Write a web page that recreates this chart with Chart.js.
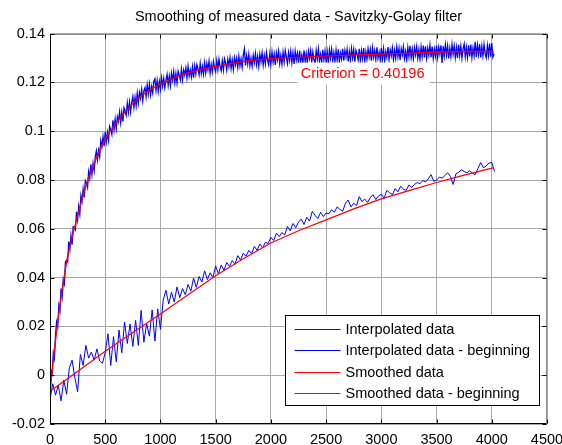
<!DOCTYPE html>
<html>
<head>
<meta charset="utf-8">
<title>Savitzky-Golay smoothing</title>
<script src="https://cdn.jsdelivr.net/npm/chart.js@4.4.1/dist/chart.umd.min.js"></script>
<style>
  html, body { margin: 0; padding: 0; background: #fff; }
</style>
</head>
<body>
<canvas id="chart" width="562" height="445"></canvas>
<script>
// measured response (full run), one sample every 10 time units
const FAST_STEP = 10;
const fastRaw = [
  -0.0098, 0.0017, 0.0005, 0.0091, 0.0070, 0.0165, 0.0218, 0.0198, 0.0285, 0.0263,
  0.0355, 0.0322, 0.0392, 0.0375, 0.0465, 0.0471, 0.0464, 0.0548, 0.0516, 0.0572,
  0.0535, 0.0609, 0.0606, 0.0597, 0.0670, 0.0637, 0.0692, 0.0661, 0.0736, 0.0712,
  0.0763, 0.0729, 0.0798, 0.0788, 0.0770, 0.0834, 0.0808, 0.0865, 0.0822, 0.0868,
  0.0839, 0.0897, 0.0920, 0.0883, 0.0922, 0.0896, 0.0961, 0.0935, 0.0977, 0.0939,
  0.0998, 0.0957, 0.0995, 0.0963, 0.1020, 0.1006, 0.0987, 0.1045, 0.1006, 0.1050,
  0.1011, 0.1059, 0.1040, 0.1079, 0.1036, 0.1078, 0.1040, 0.1096, 0.1083, 0.1066,
  0.1116, 0.1078, 0.1120, 0.1079, 0.1119, 0.1142, 0.1098, 0.1139, 0.1105, 0.1156,
  0.1116, 0.1159, 0.1135, 0.1172, 0.1126, 0.1166, 0.1179, 0.1142, 0.1190, 0.1153,
  0.1193, 0.1150, 0.1183, 0.1158, 0.1205, 0.1215, 0.1168, 0.1207, 0.1164, 0.1204,
  0.1173, 0.1219, 0.1185, 0.1217, 0.1179, 0.1210, 0.1233, 0.1189, 0.1226, 0.1188,
  0.1237, 0.1209, 0.1244, 0.1199, 0.1236, 0.1198, 0.1246, 0.1230, 0.1211, 0.1255,
  0.1211, 0.1251, 0.1231, 0.1260, 0.1219, 0.1266, 0.1227, 0.1251, 0.1222, 0.1264,
  0.1220, 0.1268, 0.1235, 0.1273, 0.1256, 0.1232, 0.1278, 0.1237, 0.1266, 0.1234,
  0.1281, 0.1240, 0.1278, 0.1252, 0.1287, 0.1238, 0.1274, 0.1244, 0.1286, 0.1259,
  0.1245, 0.1290, 0.1253, 0.1295, 0.1265, 0.1248, 0.1289, 0.1251, 0.1297, 0.1280,
  0.1251, 0.1295, 0.1266, 0.1302, 0.1258, 0.1292, 0.1254, 0.1301, 0.1273, 0.1300,
  0.1262, 0.1307, 0.1268, 0.1297, 0.1263, 0.1312, 0.1337, 0.1270, 0.1310, 0.1276,
  0.1315, 0.1269, 0.1299, 0.1267, 0.1311, 0.1281, 0.1319, 0.1273, 0.1307, 0.1267,
  0.1316, 0.1285, 0.1321, 0.1272, 0.1311, 0.1277, 0.1324, 0.1291, 0.1273, 0.1317,
  0.1276, 0.1325, 0.1284, 0.1316, 0.1272, 0.1321, 0.1293, 0.1328, 0.1278, 0.1311,
  0.1275, 0.1324, 0.1284, 0.1331, 0.1305, 0.1278, 0.1322, 0.1290, 0.1328, 0.1282,
  0.1322, 0.1276, 0.1328, 0.1293, 0.1320, 0.1281, 0.1331, 0.1286, 0.1313, 0.1281,
  0.1332, 0.1286, 0.1318, 0.1278, 0.1328, 0.1299, 0.1331, 0.1286, 0.1325, 0.1292,
  0.1280, 0.1331, 0.1295, 0.1336, 0.1287, 0.1315, 0.1283, 0.1334, 0.1292, 0.1329,
  0.1286, 0.1326, 0.1280, 0.1334, 0.1300, 0.1336, 0.1291, 0.1323, 0.1285, 0.1332,
  0.1291, 0.1336, 0.1286, 0.1321, 0.1296, 0.1338, 0.1289, 0.1331, 0.1304, 0.1336,
  0.1286, 0.1327, 0.1292, 0.1339, 0.1301, 0.1334, 0.1285, 0.1332, 0.1317, 0.1292,
  0.1338, 0.1290, 0.1331, 0.1297, 0.1341, 0.1288, 0.1326, 0.1295, 0.1338, 0.1305,
  0.1336, 0.1289, 0.1342, 0.1303, 0.1331, 0.1294, 0.1344, 0.1299, 0.1324, 0.1292,
  0.1342, 0.1298, 0.1338, 0.1289, 0.1326, 0.1302, 0.1345, 0.1295, 0.1334, 0.1309,
  0.1342, 0.1293, 0.1332, 0.1299, 0.1346, 0.1306, 0.1340, 0.1292, 0.1338, 0.1313,
  0.1346, 0.1298, 0.1328, 0.1293, 0.1343, 0.1306, 0.1350, 0.1302, 0.1337, 0.1298,
  0.1342, 0.1313, 0.1347, 0.1300, 0.1335, 0.1295, 0.1346, 0.1306, 0.1351, 0.1303,
  0.1348, 0.1299, 0.1340, 0.1312, 0.1353, 0.1304, 0.1347, 0.1299, 0.1337, 0.1308,
  0.1351, 0.1303, 0.1344, 0.1316, 0.1352, 0.1280, 0.1348, 0.1308, 0.1354, 0.1312,
  0.1349, 0.1299, 0.1341, 0.1307, 0.1356, 0.1316, 0.1350, 0.1303, 0.1344, 0.1301,
  0.1354, 0.1311, 0.1349, 0.1301, 0.1338, 0.1358, 0.1306, 0.1344, 0.1303, 0.1352,
  0.1307, 0.1355, 0.1302, 0.1341, 0.1310, 0.1367, 0.1305, 0.1353, 0.1315, 0.1357,
  0.1303, 0.1348, 0.1309, 0.1356, 0.1316, 0.1301, 0.1351, 0.1312, 0.1360, 0.1306,
  0.1362, 0.1304, 0.1318
];

// measured response (beginning), one sample every 25 time units
const SLOW_STEP = 25;
const slowRaw = [
  -0.0100, -0.0035, -0.0082, -0.0040, -0.0105, -0.0020, -0.0078, 0.0030, 0.0062, -0.0010,
  -0.0068, 0.0085, 0.0040, 0.0122, 0.0070, 0.0095, 0.0062, 0.0108, 0.0058, 0.0049,
  0.0093, 0.0170, 0.0040, 0.0158, 0.0055, 0.0185, 0.0092, 0.0218, 0.0130, 0.0210,
  0.0118, 0.0225, 0.0122, 0.0266, 0.0135, 0.0212, 0.0160, 0.0268, 0.0140, 0.0272,
  0.0188, 0.0308, 0.0348, 0.0292, 0.0340, 0.0300, 0.0362, 0.0318, 0.0355, 0.0330,
  0.0372, 0.0345, 0.0398, 0.0360, 0.0405, 0.0382, 0.0428, 0.0392, 0.0420, 0.0400,
  0.0448, 0.0415, 0.0452, 0.0430, 0.0462, 0.0446, 0.0470, 0.0455, 0.0490, 0.0472,
  0.0500, 0.0488, 0.0512, 0.0498, 0.0528, 0.0512, 0.0538, 0.0522, 0.0545, 0.0540,
  0.0565, 0.0552, 0.0582, 0.0568, 0.0585, 0.0575, 0.0610, 0.0592, 0.0622, 0.0605,
  0.0628, 0.0640, 0.0618, 0.0648, 0.0632, 0.0672, 0.0655, 0.0642, 0.0668, 0.0650,
  0.0665, 0.0662, 0.0678, 0.0668, 0.0690, 0.0680, 0.0672, 0.0705, 0.0718, 0.0690,
  0.0705, 0.0695, 0.0732, 0.0712, 0.0722, 0.0708, 0.0728, 0.0740, 0.0720, 0.0735,
  0.0742, 0.0725, 0.0758, 0.0748, 0.0740, 0.0765, 0.0752, 0.0775, 0.0762, 0.0758,
  0.0780, 0.0770, 0.0782, 0.0790, 0.0785, 0.0798, 0.0792, 0.0805, 0.0822, 0.0795,
  0.0800, 0.0812, 0.0808, 0.0818, 0.0830, 0.0815, 0.0782, 0.0825, 0.0832, 0.0842,
  0.0835, 0.0830, 0.0838, 0.0828, 0.0822, 0.0848, 0.0872, 0.0850, 0.0858, 0.0870,
  0.0872, 0.0835
];

// Savitzky-Golay output
const fastSmoothX = [0, 20, 40, 60, 80, 100, 120, 140, 160, 180, 200, 250, 300, 350, 400, 450, 500,
  600, 700, 800, 900, 1000, 1100, 1200, 1300, 1400, 1500, 1600, 1700, 1800, 1900, 2000,
  2200, 2400, 2600, 2800, 3000, 3200, 3400, 3600, 3800, 4000, 4020];
const fastSmoothY = [-0.0066, 0.002, 0.0105, 0.018, 0.0255, 0.032, 0.038, 0.0435, 0.049, 0.053, 0.0565,
  0.0655, 0.0738, 0.0812, 0.0865, 0.0925, 0.097, 0.1035, 0.109, 0.1137, 0.117, 0.1193,
  0.1215, 0.1233, 0.1246, 0.1257, 0.1266, 0.1274, 0.1282, 0.129, 0.1294, 0.1298,
  0.1302, 0.1307, 0.131, 0.1313, 0.1316, 0.1319, 0.1323, 0.1326, 0.1327, 0.1327, 0.1324];

const slowSmoothX = [0, 250, 500, 750, 1000, 1250, 1500, 1750, 2000, 2250, 2500, 2750, 3000,
  3250, 3500, 3750, 4000, 4015];
const slowSmoothY = [-0.0066, 0.0015, 0.0098, 0.0175, 0.0251, 0.033, 0.0408, 0.0477, 0.0542,
  0.0592, 0.0637, 0.0682, 0.0723, 0.0757, 0.079, 0.082, 0.0849, 0.085];

const seriesNames = ['Interpolated data', 'Interpolated data - beginning',
  'Smoothed data', 'Smoothed data - beginning'];
const criterion = 0.40196;

const FONT = 'Arial, "Liberation Sans", Helvetica, sans-serif';
const FS = 14.5;

const stepped = (ys, step) => ys.map((y, i) => ({ x: i * step, y }));
const paired = (xs, ys) => ys.map((y, i) => ({ x: xs[i], y }));

// box, inward ticks, criterion tag and legend, drawn in the MATLAB way
const axesDecor = {
  id: 'axesDecor',
  afterDatasetsDraw(chart) {
    const { ctx, chartArea: a, scales: { x, y } } = chart;
    const L = Math.round(a.left) + 0.5, R = Math.round(a.right) - 0.5;
    const T = Math.round(a.top) + 0.5, B = Math.round(a.bottom) - 0.5;
    ctx.save();
    ctx.lineWidth = 1;

    ctx.strokeStyle = '#8c8c8c';
    ctx.beginPath();
    ctx.moveTo(L, T); ctx.lineTo(R, T); ctx.lineTo(R, B);
    ctx.stroke();

    ctx.strokeStyle = '#000';
    ctx.beginPath();
    ctx.moveTo(L, T); ctx.lineTo(L, B); ctx.lineTo(R, B);
    const tl = 4;
    x.ticks.forEach(t => {
      const px = Math.round(x.getPixelForValue(t.value)) + 0.5;
      ctx.moveTo(px, B); ctx.lineTo(px, B - tl);
      ctx.moveTo(px, T); ctx.lineTo(px, T + tl);
    });
    y.ticks.forEach(t => {
      const py = Math.round(y.getPixelForValue(t.value)) + 0.5;
      ctx.moveTo(L, py); ctx.lineTo(L + tl, py);
      ctx.moveTo(R, py); ctx.lineTo(R - tl, py);
    });
    ctx.stroke();

    // criterion tag
    ctx.font = FS + 'px ' + FONT;
    const txt = 'Criterion = ' + criterion;
    const cx = x.getPixelForValue(2270), cy = y.getPixelForValue(0.1236);
    const w = ctx.measureText(txt).width;
    ctx.fillStyle = '#fff';
    ctx.fillRect(cx - 3, cy - 11, w + 8, 22);
    ctx.fillStyle = '#ff0000';
    ctx.textBaseline = 'middle';
    ctx.textAlign = 'left';
    ctx.fillText(txt, cx, cy);

    // legend
    const lw = 254, lh = 90;
    const lx = Math.round(a.right - 8 - lw) + 0.5, ly = Math.round(a.bottom - 19 - lh) + 0.5;
    ctx.fillStyle = '#fff';
    ctx.fillRect(lx, ly, lw, lh);
    ctx.strokeStyle = '#000';
    ctx.strokeRect(lx, ly, lw, lh);
    seriesNames.forEach((name, i) => {
      const ds = chart.data.datasets.find(d => d.label === name);
      const ry = Math.round(ly + 13.5 + i * 21.4) + 0.5;
      ctx.strokeStyle = ds.borderColor;
      ctx.lineWidth = 1;
      ctx.beginPath();
      ctx.moveTo(lx + 9, ry); ctx.lineTo(lx + 55, ry);
      ctx.stroke();
      ctx.fillStyle = '#000';
      ctx.fillText(name, lx + 60, ry);
    });
    ctx.restore();
  }
};

const gridStyle = { color: '#a9a9a9', lineWidth: 1, drawTicks: false };

new Chart(document.getElementById('chart'), {
  type: 'line',
  data: {
    datasets: [
      { label: seriesNames[2], data: paired(fastSmoothX, fastSmoothY), borderColor: '#ff0000',
        borderWidth: 1.3, order: 0 },
      { label: seriesNames[3], data: paired(slowSmoothX, slowSmoothY), borderColor: '#ff0000',
        borderWidth: 1.2, order: 0 },
      { label: seriesNames[0], data: stepped(fastRaw, FAST_STEP), borderColor: '#0000ff',
        borderWidth: 1.3, order: 1 },
      { label: seriesNames[1], data: stepped(slowRaw, SLOW_STEP), borderColor: '#0000ff',
        borderWidth: 1, order: 1 }
    ]
  },
  options: {
    responsive: false,
    animation: false,
    devicePixelRatio: 1,
    elements: { point: { radius: 0 }, line: { tension: 0, fill: false } },
    layout: { padding: { left: 0, right: 15, top: 0, bottom: 0 } },
    plugins: {
      legend: { display: false },
      tooltip: { enabled: false },
      title: {
        display: true,
        fullSize: false,
        text: 'Smoothing of measured data - Savitzky-Golay filter',
        color: '#000',
        font: { family: FONT, size: FS, weight: 'normal', lineHeight: 1.2 },
        padding: { top: 8, bottom: 8.3 }
      }
    },
    scales: {
      x: {
        type: 'linear', min: 0, max: 4500,
        grid: gridStyle,
        border: { display: false },
        ticks: { stepSize: 500, color: '#000', padding: 7, maxRotation: 0,
                 font: { family: FONT, size: FS },
                 callback: v => String(v) },
        afterFit(s) { s.height = 21; s.paddingLeft = 0; s.paddingRight = 0; }
      },
      y: {
        type: 'linear', min: -0.02, max: 0.14,
        grid: gridStyle,
        border: { display: false },
        ticks: { stepSize: 0.02, color: '#000', padding: 5,
                 font: { family: FONT, size: FS },
                 callback: v => String(+v.toFixed(2)) },
        afterFit(s) { s.width = 50; }
      }
    }
  },
  plugins: [axesDecor]
});
</script>
</body>
</html>
